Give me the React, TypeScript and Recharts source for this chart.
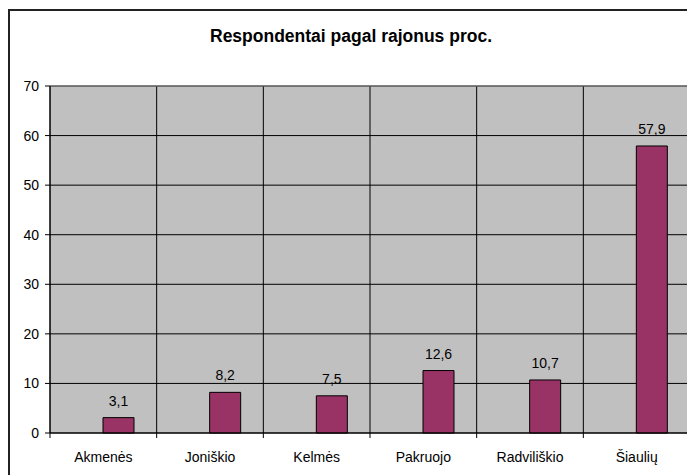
import React from 'react'
import {
  BarChart,
  Bar,
  XAxis,
  YAxis,
  CartesianGrid,
  LabelList,
  ReferenceLine
} from 'recharts'

// respondents by district, percent
const districts = ['Akmenės', 'Joniškio', 'Kelmės', 'Pakruojo', 'Radviliškio', 'Šiaulių']
const percents = [3.1, 8.2, 7.5, 12.6, 10.7, 57.9]
const yTicks = [0, 10, 20, 30, 40, 50, 60, 70]

// the original has an empty first series, so the real bar sits right of the centre
const data = districts.map((name, i) => ({ name, pct: percents[i], blank: null }))

const CHART_W = 700
const CHART_H = 464
const margin = { top: 75, right: 20, left: 0, bottom: 0 }
const Y_W = 40
const PLOT_LEFT = margin.left + Y_W
const PLOT_W = CHART_W - margin.left - margin.right - Y_W
const BAND = PLOT_W / districts.length
const FONT = '"Liberation Sans", Arial, sans-serif'
const FS = 14

const boundaries = districts.map((_, i) => PLOT_LEFT + i * BAND).concat(PLOT_LEFT + PLOT_W)

function DistrictTick({ x, y, payload }: any) {
  const left = x - BAND / 2
  return (
    <g>
      <line x1={left} y1={y} x2={left} y2={y + 5} stroke="#000" />
      <text x={x} y={y + 29} textAnchor="middle" fontSize={FS} fill="#000" fontFamily={FONT}>
        {payload.value}
      </text>
    </g>
  )
}

const fmt = (v: any) => String(v).replace('.', ',')

export default function App() {
  // fixed so the cropped frame does not make the page scroll
  return (
    <div
      style={{
        position: 'fixed',
        left: 8,
        top: 9,
        width: 679,
        height: 466,
        overflow: 'hidden',
        borderLeft: '2px solid #222',
        borderTop: '2px solid #222',
        boxSizing: 'border-box',
        background: '#fff',
        fontFamily: FONT
      }}
    >
      <div
        style={{
          position: 'absolute',
          left: 0,
          top: 15,
          width: 682,
          textAlign: 'center',
          fontSize: 17.5,
          lineHeight: '20px',
          fontWeight: 'bold',
          color: '#000',
          zIndex: 1
        }}
      >
        Respondentai pagal rajonus proc.
      </div>
      <BarChart width={CHART_W} height={CHART_H} data={data} margin={margin} barGap={0}>
        <CartesianGrid
          stroke="#000"
          fill="#C0C0C0"
          fillOpacity={1}
          verticalPoints={boundaries}
        />
        <ReferenceLine y={70} stroke="#808080" />
        <XAxis
          dataKey="name"
          height={42}
          interval={0}
          tickSize={0}
          tickMargin={0}
          tick={<DistrictTick />}
          axisLine={{ stroke: '#000' }}
        />
        <YAxis
          width={Y_W}
          domain={[0, 70]}
          ticks={yTicks}
          interval={0}
          tickSize={5}
          tickMargin={6}
          axisLine={{ stroke: '#000' }}
          tickLine={{ stroke: '#000' }}
          tick={{ fill: '#000', fontSize: FS, fontFamily: FONT }}
        />
        <Bar dataKey="blank" barSize={31} isAnimationActive={false} />
        <Bar dataKey="pct" barSize={31} fill="#993366" stroke="#000" isAnimationActive={false}>
          <LabelList
            dataKey="pct"
            position="top"
            offset={12}
            formatter={fmt}
            fill="#000"
            fontSize={FS}
            fontFamily={FONT}
          />
        </Bar>
      </BarChart>
    </div>
  )
}
